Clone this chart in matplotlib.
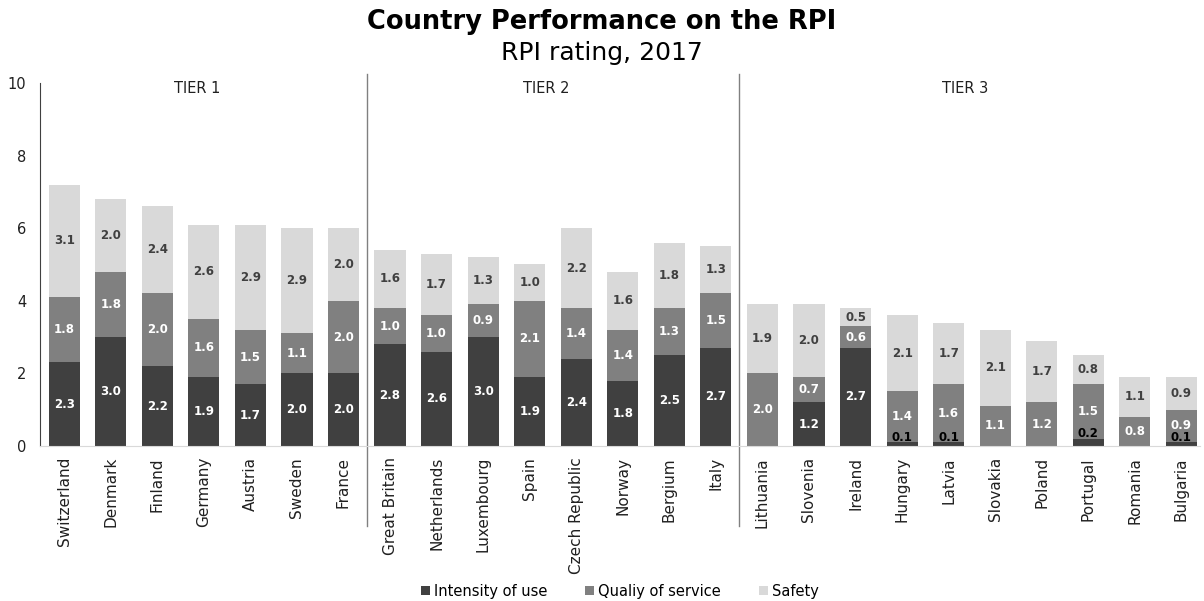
import numpy as np
import matplotlib.pyplot as plt
import matplotlib.transforms as mtransforms

countries = ['Switzerland', 'Denmark', 'Finland', 'Germany', 'Austria', 'Sweden', 'France',
             'Great Britain', 'Netherlands', 'Luxembourg', 'Spain', 'Czech Republic', 'Norway',
             'Bergium', 'Italy',
             'Lithuania', 'Slovenia', 'Ireland', 'Hungary', 'Latvia', 'Slovakia', 'Poland',
             'Portugal', 'Romania', 'Bulgaria']
intensity = [2.3, 3.0, 2.2, 1.9, 1.7, 2.0, 2.0,
             2.8, 2.6, 3.0, 1.9, 2.4, 1.8, 2.5, 2.7,
             0.0, 1.2, 2.7, 0.1, 0.1, 0.0, 0.0, 0.2, 0.0, 0.1]
quality = [1.8, 1.8, 2.0, 1.6, 1.5, 1.1, 2.0,
           1.0, 1.0, 0.9, 2.1, 1.4, 1.4, 1.3, 1.5,
           2.0, 0.7, 0.6, 1.4, 1.6, 1.1, 1.2, 1.5, 0.8, 0.9]
safety = [3.1, 2.0, 2.4, 2.6, 2.9, 2.9, 2.0,
          1.6, 1.7, 1.3, 1.0, 2.2, 1.6, 1.8, 1.3,
          1.9, 2.0, 0.5, 2.1, 1.7, 2.1, 1.7, 0.8, 1.1, 0.9]
tier_names = ['TIER 1', 'TIER 2', 'TIER 3']
tier_sizes = [7, 8, 10]

series = [('Intensity of use', intensity, '#404040', 'white'),
          ('Qualiy of service', quality, '#808080', 'white'),
          ('Safety', safety, '#d9d9d9', '#404040')]

plt.rcParams['font.family'] = ['DejaVu Sans']

fig = plt.figure(figsize=(12.04, 6.01), dpi=100)
ax = fig.add_axes([0.0332, 0.258, 0.9635, 0.604])

x = np.arange(len(countries))
bottom = np.zeros(len(countries))
for name, vals, color, tcolor in series:
    vals = np.array(vals)
    ax.bar(x, vals, 0.67, bottom=bottom, color=color, label=name, edgecolor='none')
    for xi, b, v in zip(x, bottom, vals):
        if v <= 0:
            continue
        if v < 0.3:
            # tiny segments get their label just above, in black
            ax.text(xi, b + v + 0.14, '%.1f' % v, ha='center', va='center',
                    fontsize=8.5, fontweight='bold', color='black')
        else:
            ax.text(xi, b + v / 2, '%.1f' % v, ha='center', va='center',
                    fontsize=8.5, fontweight='bold', color=tcolor)
    bottom += vals

ax.set_xlim(-0.52, 24.4)
ax.set_ylim(0, 10)
ax.set_yticks([0, 2, 4, 6, 8, 10])
ax.set_xticks(x)
ax.set_xticklabels(countries, rotation=90, fontsize=11, color='#202020')
ax.tick_params(axis='both', length=0, labelsize=10.5, colors='#202020')
ax.tick_params(axis='x', pad=8, labelsize=11)
ax.tick_params(axis='y', pad=10)

for s in ['top', 'right']:
    ax.spines[s].set_visible(False)
ax.spines['left'].set_color('#404040')
ax.spines['bottom'].set_color('#d9d9d9')

# tier separators, running from above the plot down into the tick labels
trans = mtransforms.blended_transform_factory(ax.transData, ax.transAxes)
edges = np.cumsum(tier_sizes)
for e in edges[:-1]:
    ax.plot([e - 0.5, e - 0.5], [-0.22, 1.025], color='#808080', lw=1,
            transform=trans, clip_on=False)

starts = np.concatenate([[-0.5], edges[:-1] - 0.5])
ends = edges - 0.5
for name, s0, s1 in zip(tier_names, starts, ends):
    ax.text((s0 + s1) / 2 - 0.15, 9.85, name, ha='center', va='center',
            fontsize=10.5, color='#202020')

fig.text(0.5, 0.963, 'Country Performance on the RPI', ha='center', va='center',
         fontsize=18.5, fontweight='bold')
fig.text(0.5, 0.912, 'RPI rating, 2017', ha='center', va='center', fontsize=18)

ax.legend(loc='center', bbox_to_anchor=(0.5, -0.4), ncol=3, frameon=False,
          fontsize=10.5, handlelength=0.6, handleheight=0.6, handletextpad=0.3,
          columnspacing=2.6)

fig.savefig('out.png', dpi=100)
